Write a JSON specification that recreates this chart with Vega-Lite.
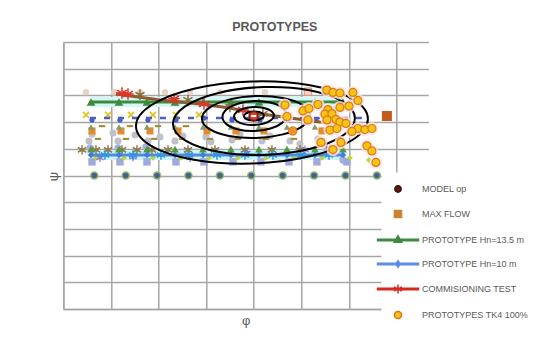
{
  "$schema": "https://vega.github.io/schema/vega-lite/v6.json",
  "width": 365,
  "height": 267,
  "autosize": {"type": "none"},
  "padding": {"left": 63.3, "top": 42, "right": 121.7, "bottom": 50},
  "background": "white",
  "title": {"text": "PROTOTYPES", "font": "Liberation Sans", "fontSize": 12.5, "fontWeight": "bold", "color": "#595959", "anchor": "middle", "frame": "group", "dx": 29, "offset": -1, "baseline": "alphabetic"},
  "config": {
    "view": {"stroke": null},
    "axis": {"gridColor": "#a6a6a6", "gridWidth": 1.5, "domainColor": "#a6a6a6", "domainWidth": 1.5, "labels": false, "ticks": false, "titleColor": "#595959", "titleFont": "Liberation Sans", "titleFontSize": 13, "titleFontWeight": "normal"}
  },
  "datasets": {
    "hn135": [{"phi":0.582,"psi":7.75},{"phi":1.170,"psi":7.75},{"phi":1.758,"psi":7.75},{"phi":2.347,"psi":7.75},{"phi":2.935,"psi":7.75},{"phi":3.523,"psi":7.75},{"phi":4.111,"psi":7.75},{"phi":4.700,"psi":7.75},{"phi":5.288,"psi":7.75},{"phi":5.876,"psi":7.75}],
    "hn10": [{"phi":0.582,"psi":5.77},{"phi":1.170,"psi":5.77},{"phi":1.758,"psi":5.77},{"phi":2.347,"psi":5.77},{"phi":2.935,"psi":5.77},{"phi":3.523,"psi":5.77},{"phi":4.111,"psi":5.77},{"phi":4.700,"psi":5.77},{"phi":5.288,"psi":5.77},{"phi":5.876,"psi":5.77}],
    "row2tri": [{"phi":0.582,"psi":5.99},{"phi":1.170,"psi":5.99},{"phi":1.758,"psi":5.99},{"phi":2.347,"psi":5.99},{"phi":2.935,"psi":5.99},{"phi":3.523,"psi":5.99},{"phi":4.111,"psi":5.99},{"phi":4.700,"psi":5.99},{"phi":5.288,"psi":5.99},{"phi":5.876,"psi":5.99}],
    "olivetri": [{"phi":0.582,"psi":6.82},{"phi":1.170,"psi":6.82},{"phi":1.758,"psi":6.82},{"phi":2.347,"psi":6.82},{"phi":2.935,"psi":6.82},{"phi":3.523,"psi":6.82},{"phi":4.111,"psi":6.82},{"phi":4.700,"psi":6.82},{"phi":5.288,"psi":6.82}],
    "dots175": [{"phi":0.651,"psi":5.0},{"phi":1.311,"psi":5.0},{"phi":1.970,"psi":5.0},{"phi":2.630,"psi":5.0},{"phi":3.290,"psi":5.0},{"phi":3.950,"psi":5.0},{"phi":4.610,"psi":5.0},{"phi":5.270,"psi":5.0},{"phi":5.930,"psi":5.0},{"phi":6.590,"psi":5.0}],
    "bluedash": [{"phi":0.561,"psi":7.15},{"phi":6.275,"psi":7.15}],
    "bluedots": [{"phi":0.603,"psi":7.08},{"phi":1.191,"psi":7.08},{"phi":1.779,"psi":7.08},{"phi":2.368,"psi":7.08},{"phi":2.956,"psi":7.15},{"phi":3.544,"psi":7.08},{"phi":4.132,"psi":7.08},{"phi":4.721,"psi":7.08},{"phi":5.309,"psi":7.08},{"phi":5.897,"psi":7.08}],
    "yellowx": [{"phi":0.477,"psi":7.27},{"phi":0.939,"psi":7.27},{"phi":1.422,"psi":7.27},{"phi":1.884,"psi":7.27},{"phi":2.368,"psi":7.27},{"phi":2.851,"psi":7.27}],
    "orangesq": [{"phi":0.603,"psi":6.67},{"phi":1.212,"psi":6.67},{"phi":1.821,"psi":6.67},{"phi":2.410,"psi":6.67},{"phi":3.019,"psi":6.67},{"phi":3.628,"psi":6.67},{"phi":4.216,"psi":6.67},{"phi":4.826,"psi":6.67},{"phi":5.435,"psi":6.67}],
    "graycirc": [{"phi":0.540,"psi":6.29},{"phi":0.603,"psi":6.55},{"phi":1.044,"psi":6.59},{"phi":1.149,"psi":6.29},{"phi":1.506,"psi":6.52},{"phi":1.779,"psi":6.29},{"phi":2.032,"psi":6.44},{"phi":2.347,"psi":6.29},{"phi":2.515,"psi":6.48},{"phi":2.998,"psi":6.44},{"phi":3.103,"psi":6.26},{"phi":3.544,"psi":6.33},{"phi":3.712,"psi":6.55},{"phi":4.174,"psi":6.29},{"phi":4.342,"psi":6.48},{"phi":4.763,"psi":6.29},{"phi":4.973,"psi":6.18},{"phi":5.351,"psi":6.37},{"phi":5.498,"psi":6.03}],
    "lavcirc": [{"phi":0.563,"psi":6.03},{"phi":1.149,"psi":6.03},{"phi":1.739,"psi":6.07},{"phi":5.876,"psi":5.58}],
    "lavsq": [{"phi":0.603,"psi":5.51},{"phi":1.191,"psi":5.51},{"phi":1.758,"psi":5.51},{"phi":2.368,"psi":5.51},{"phi":2.956,"psi":5.51},{"phi":3.565,"psi":5.51},{"phi":4.153,"psi":5.51},{"phi":4.742,"psi":5.51},{"phi":5.330,"psi":5.51},{"phi":5.960,"psi":5.51}],
    "ygdiam": [{"phi":0.687,"psi":5.66},{"phi":1.275,"psi":5.66},{"phi":1.884,"psi":5.66},{"phi":2.473,"psi":5.66},{"phi":3.061,"psi":5.66},{"phi":3.670,"psi":5.66},{"phi":4.258,"psi":5.66},{"phi":4.847,"psi":5.66},{"phi":5.435,"psi":5.66},{"phi":6.023,"psi":5.66},{"phi":6.422,"psi":5.58}],
    "brownast": [{"phi":0.393,"psi":5.96},{"phi":0.687,"psi":5.96},{"phi":0.939,"psi":5.96},{"phi":1.233,"psi":5.96},{"phi":1.548,"psi":5.96},{"phi":1.863,"psi":5.96},{"phi":2.200,"psi":5.96},{"phi":2.620,"psi":5.96},{"phi":3.187,"psi":5.96},{"phi":3.817,"psi":5.96},{"phi":4.384,"psi":5.96},{"phi":4.973,"psi":5.96},{"phi":5.603,"psi":5.96}],
    "purpleast": [{"phi":0.771,"psi":5.66},{"phi":1.464,"psi":5.69},{"phi":2.662,"psi":5.66},{"phi":3.859,"psi":5.84},{"phi":5.078,"psi":5.96},{"phi":5.603,"psi":6.03}],
    "blueast": [{"phi":0.876,"psi":5.77},{"phi":1.464,"psi":5.77},{"phi":2.053,"psi":5.77},{"phi":2.641,"psi":5.77},{"phi":3.229,"psi":5.77},{"phi":3.817,"psi":5.77},{"phi":4.405,"psi":5.77},{"phi":4.994,"psi":5.77},{"phi":5.582,"psi":5.77}],
    "olivedash": [{"phi":0.729,"psi":6.37},{"phi":1.317,"psi":6.37},{"phi":1.905,"psi":6.37},{"phi":2.494,"psi":6.37},{"phi":3.082,"psi":6.37},{"phi":3.670,"psi":6.37},{"phi":4.258,"psi":6.37},{"phi":4.847,"psi":6.37},{"phi":5.435,"psi":6.37},{"phi":0.813,"psi":6.85},{"phi":1.401,"psi":6.85},{"phi":1.989,"psi":6.85},{"phi":2.578,"psi":6.85}],
    "tanc": [{"phi":0.477,"psi":8.12},{"phi":1.067,"psi":8.12},{"phi":1.613,"psi":8.12},{"phi":2.139,"psi":8.12},{"phi":2.664,"psi":8.12},{"phi":3.292,"psi":8.12},{"phi":4.237,"psi":8.12}],
    "pinksq": [{"phi":5.141,"psi":8.14}],
    "comm": [{"phi":1.107,"psi":8.05},{"phi":2.032,"psi":7.83},{"phi":2.872,"psi":7.68},{"phi":3.502,"psi":7.53},{"phi":4.027,"psi":7.34},{"phi":4.763,"psi":7.15},{"phi":5.393,"psi":7.00},{"phi":6.023,"psi":6.85}],
    "commast": [{"phi":1.233,"psi":8.09},{"phi":1.359,"psi":8.05},{"phi":2.326,"psi":7.87},{"phi":2.956,"psi":7.68},{"phi":3.775,"psi":7.45}],
    "commbrown": [{"phi":1.611,"psi":8.02},{"phi":2.620,"psi":7.83},{"phi":3.502,"psi":7.57},{"phi":4.195,"psi":7.30}],
    "ellipses": [
      {"e":1,"k":0,"phi":4.216,"psi":7.239},{"e":1,"k":1,"phi":4.188,"psi":7.322},{"e":1,"k":2,"phi":4.111,"psi":7.380},{"e":1,"k":3,"phi":4.006,"psi":7.397},{"e":1,"k":4,"phi":3.901,"psi":7.368},{"e":1,"k":5,"phi":3.824,"psi":7.303},{"e":1,"k":6,"phi":3.796,"psi":7.217},{"e":1,"k":7,"phi":3.824,"psi":7.134},{"e":1,"k":8,"phi":3.901,"psi":7.076},{"e":1,"k":9,"phi":4.006,"psi":7.059},{"e":1,"k":10,"phi":4.111,"psi":7.088},{"e":1,"k":11,"phi":4.188,"psi":7.153},
      {"e":2,"k":0,"phi":4.426,"psi":7.251},{"e":2,"k":1,"phi":4.370,"psi":7.417},{"e":2,"k":2,"phi":4.216,"psi":7.531},{"e":2,"k":3,"phi":4.006,"psi":7.565},{"e":2,"k":4,"phi":3.796,"psi":7.509},{"e":2,"k":5,"phi":3.642,"psi":7.378},{"e":2,"k":6,"phi":3.586,"psi":7.206},{"e":2,"k":7,"phi":3.642,"psi":7.040},{"e":2,"k":8,"phi":3.796,"psi":6.925},{"e":2,"k":9,"phi":4.006,"psi":6.891},{"e":2,"k":10,"phi":4.216,"psi":6.947},{"e":2,"k":11,"phi":4.370,"psi":7.079},
      {"e":3,"k":0,"phi":4.689,"psi":7.264},{"e":3,"k":1,"phi":4.599,"psi":7.540},{"e":3,"k":2,"phi":4.353,"psi":7.733},{"e":3,"k":3,"phi":4.017,"psi":7.790},{"e":3,"k":4,"phi":3.681,"psi":7.697},{"e":3,"k":5,"phi":3.435,"psi":7.478},{"e":3,"k":6,"phi":3.345,"psi":7.192},{"e":3,"k":7,"phi":3.435,"psi":6.916},{"e":3,"k":8,"phi":3.681,"psi":6.723},{"e":3,"k":9,"phi":4.017,"psi":6.666},{"e":3,"k":10,"phi":4.353,"psi":6.759},{"e":3,"k":11,"phi":4.599,"psi":6.978},
      {"e":4,"k":0,"phi":5.182,"psi":7.252},{"e":4,"k":1,"phi":5.030,"psi":7.637},{"e":4,"k":2,"phi":4.615,"psi":7.902},{"e":4,"k":3,"phi":4.048,"psi":7.978},{"e":4,"k":4,"phi":3.481,"psi":7.842},{"e":4,"k":5,"phi":3.066,"psi":7.531},{"e":4,"k":6,"phi":2.914,"psi":7.130},{"e":4,"k":7,"phi":3.066,"psi":6.745},{"e":4,"k":8,"phi":3.481,"psi":6.480},{"e":4,"k":9,"phi":4.048,"psi":6.404},{"e":4,"k":10,"phi":4.615,"psi":6.540},{"e":4,"k":11,"phi":5.030,"psi":6.851},
      {"e":5,"k":0,"phi":6.128,"psi":7.143},{"e":5,"k":1,"phi":5.872,"psi":7.766},{"e":5,"k":2,"phi":5.172,"psi":8.195},{"e":5,"k":3,"phi":4.216,"psi":8.314},{"e":5,"k":4,"phi":3.260,"psi":8.093},{"e":5,"k":5,"phi":2.560,"psi":7.590},{"e":5,"k":6,"phi":2.304,"psi":6.939},{"e":5,"k":7,"phi":2.560,"psi":6.316},{"e":5,"k":8,"phi":3.260,"psi":5.887},{"e":5,"k":9,"phi":4.216,"psi":5.768},{"e":5,"k":10,"phi":5.172,"psi":5.989},{"e":5,"k":11,"phi":5.872,"psi":6.492},
      {"e":6,"k":0,"phi":6.401,"psi":7.115},{"e":6,"k":1,"phi":6.074,"psi":7.866},{"e":6,"k":2,"phi":5.183,"psi":8.380},{"e":6,"k":3,"phi":3.964,"psi":8.521},{"e":6,"k":4,"phi":2.745,"psi":8.250},{"e":6,"k":5,"phi":1.854,"psi":7.640},{"e":6,"k":6,"phi":1.527,"psi":6.855},{"e":6,"k":7,"phi":1.854,"psi":6.104},{"e":6,"k":8,"phi":2.745,"psi":5.590},{"e":6,"k":9,"phi":3.964,"psi":5.449},{"e":6,"k":10,"phi":5.183,"psi":5.720},{"e":6,"k":11,"phi":6.074,"psi":6.330}
    ],
    "tk4": [{"phi":5.540,"psi":8.20},{"phi":5.666,"psi":8.11},{"phi":5.813,"psi":8.09},{"phi":6.086,"psi":8.11},{"phi":6.191,"psi":7.81},{"phi":6.002,"psi":7.60},{"phi":5.813,"psi":7.55},{"phi":5.561,"psi":7.47},{"phi":5.498,"psi":7.30},{"phi":5.645,"psi":7.32},{"phi":5.540,"psi":7.08},{"phi":5.729,"psi":7.10},{"phi":5.813,"psi":7.00},{"phi":5.939,"psi":6.95},{"phi":5.036,"psi":7.42},{"phi":5.162,"psi":7.51},{"phi":5.351,"psi":7.66},{"phi":4.657,"psi":7.64},{"phi":4.700,"psi":7.21},{"phi":5.141,"psi":7.08},{"phi":5.603,"psi":6.70},{"phi":5.750,"psi":6.76},{"phi":6.191,"psi":6.76},{"phi":6.338,"psi":6.72},{"phi":6.485,"psi":6.76},{"phi":6.065,"psi":6.65},{"phi":5.414,"psi":6.24},{"phi":5.834,"psi":6.24},{"phi":5.666,"psi":5.97},{"phi":6.380,"psi":6.11},{"phi":6.569,"psi":5.49},{"phi":6.485,"psi":5.92}],
    "tk4o": [{"phi":4.819,"psi":6.667}],
    "maxflow": [{"phi":6.800,"psi":7.228}],
    "model": [{"phi":4.000,"psi":7.228}]
  },
  "encoding": {
    "x": {"field": "phi", "type": "quantitative", "scale": {"domain": [0, 7.67], "nice": false, "zero": false}, "axis": {"grid": true, "values": [0,1,2,3,4,5,6,7], "title": "φ", "titlePadding": 5}},
    "y": {"field": "psi", "type": "quantitative", "scale": {"domain": [0, 10], "nice": false, "zero": false}, "axis": {"grid": true, "values": [0,1,2,3,4,5,6,7,8,9,10], "title": "ψ", "titleX": -10, "titleY": 134, "titleAngle": 270, "titleAlign": "center", "titleBaseline": "middle"}}
  },
  "layer": [
    {"data": {"name": "hn135"}, "mark": {"type": "line", "color": "#d3f6f6", "strokeWidth": 10}},
    {"data": {"name": "hn10"}, "mark": {"type": "line", "color": "#cdf3fa", "strokeWidth": 10}},
    {"data": {"name": "tanc"}, "mark": {"type": "point", "shape": "circle", "filled": true, "color": "#ead2c0", "size": 40, "opacity": 1}},
    {"data": {"name": "graycirc"}, "mark": {"type": "point", "shape": "circle", "filled": true, "color": "#bfc0cc", "size": 50, "opacity": 1}},
    {"data": {"name": "lavcirc"}, "mark": {"type": "point", "shape": "circle", "filled": true, "color": "#a9b0de", "size": 55, "opacity": 1}},
    {"data": {"name": "yellowx"}, "mark": {"type": "point", "shape": "M-1,-1L1,1M-1,1L1,-1", "filled": false, "color": "#e2c21c", "strokeWidth": 1.6, "size": 36, "opacity": 1}},
    {"data": {"name": "bluedash"}, "mark": {"type": "line", "color": "#4a62c0", "strokeWidth": 2.5, "strokeDash": [6, 8]}},
    {"data": {"name": "bluedots"}, "mark": {"type": "point", "shape": "circle", "filled": true, "color": "#4a5fc1", "size": 28, "opacity": 1}},
    {"data": {"name": "orangesq"}, "mark": {"type": "point", "shape": "square", "filled": true, "color": "#e38b2f", "size": 50, "opacity": 1}},
    {"data": {"name": "olivetri"}, "mark": {"type": "point", "shape": "triangle-up", "filled": true, "color": "#8a9872", "size": 40, "opacity": 1}},
    {"data": {"name": "olivedash"}, "mark": {"type": "point", "shape": "M-1,0H1", "filled": false, "color": "#a38f3c", "strokeWidth": 2.2, "size": 40, "opacity": 1}},
    {"data": {"name": "lavsq"}, "mark": {"type": "point", "shape": "square", "filled": true, "color": "#9ea9dc", "size": 55, "opacity": 1}},
    {"data": {"name": "ygdiam"}, "mark": {"type": "point", "shape": "diamond", "filled": true, "color": "#bcd63a", "size": 35, "opacity": 1}},
    {"data": {"name": "brownast"}, "mark": {"type": "point", "shape": "M0,-1V1M-0.87,-0.5L0.87,0.5M-0.87,0.5L0.87,-0.5", "filled": false, "color": "#8d7b48", "strokeWidth": 1.5, "size": 90, "opacity": 1}},
    {"data": {"name": "purpleast"}, "mark": {"type": "point", "shape": "M0,-1V1M-0.87,-0.5L0.87,0.5M-0.87,0.5L0.87,-0.5", "filled": false, "color": "#8c72d0", "strokeWidth": 1.3, "size": 70, "opacity": 1}},
    {"data": {"name": "row2tri"}, "mark": {"type": "point", "shape": "triangle-up", "filled": true, "color": "#4f9a3c", "size": 60, "opacity": 1}},
    {"data": {"name": "hn135"}, "mark": {"type": "line", "color": "#3d8b3d", "strokeWidth": 3}},
    {"data": {"name": "hn135"}, "mark": {"type": "point", "shape": "triangle-up", "filled": true, "color": "#3d8b3d", "size": 75, "opacity": 1}},
    {"data": {"name": "hn10"}, "mark": {"type": "line", "color": "#4f8ce0", "strokeWidth": 3}},
    {"data": {"name": "hn10"}, "mark": {"type": "point", "shape": "diamond", "filled": true, "color": "#3f7fd8", "size": 45, "opacity": 1}},
    {"data": {"name": "blueast"}, "mark": {"type": "point", "shape": "M0,-1V1M-0.87,-0.5L0.87,0.5M-0.87,0.5L0.87,-0.5", "filled": false, "color": "#2f96e0", "strokeWidth": 1.5, "size": 90, "opacity": 1}},
    {"data": {"name": "comm"}, "mark": {"type": "line", "color": "#8e5a2c", "strokeWidth": 3}},
    {"data": {"name": "commast"}, "mark": {"type": "point", "shape": "M0,-1V1M-0.87,-0.5L0.87,0.5M-0.87,0.5L0.87,-0.5M-1,0H1", "filled": false, "color": "#e2352a", "strokeWidth": 1.5, "size": 130, "opacity": 1}},
    {"data": {"name": "commbrown"}, "mark": {"type": "point", "shape": "M0,-1V1M-0.87,-0.5L0.87,0.5M-0.87,0.5L0.87,-0.5", "filled": false, "color": "#8d6b3a", "strokeWidth": 1.5, "size": 110, "opacity": 1}},
    {"data": {"name": "dots175"}, "mark": {"type": "point", "shape": "circle", "filled": true, "color": "#4a5aa8", "stroke": "#8cc152", "strokeWidth": 1.5, "size": 50, "opacity": 1}},
    {"data": {"name": "pinksq"}, "mark": {"type": "point", "shape": "square", "filled": true, "color": "#f8d0d8", "stroke": "#e8905a", "strokeWidth": 1, "size": 55, "opacity": 1}},
    {"data": {"name": "ellipses"}, "mark": {"type": "line", "color": "black", "strokeWidth": 2, "interpolate": "cardinal-closed"}, "encoding": {"detail": {"field": "e", "type": "nominal"}, "order": {"field": "k", "type": "quantitative"}}},
    {"data": {"name": "tk4"}, "mark": {"type": "point", "shape": "circle", "filled": true, "color": "#fde2ea", "size": 170, "opacity": 0.8}},
    {"data": {"name": "tk4"}, "mark": {"type": "point", "shape": "circle", "filled": true, "color": "#f5c518", "stroke": "#e07a10", "strokeWidth": 1.2, "size": 64, "opacity": 1}},
    {"data": {"name": "tk4o"}, "mark": {"type": "point", "shape": "circle", "filled": true, "color": "#f3902e", "stroke": "#e07a10", "strokeWidth": 1, "size": 70, "opacity": 1}},
    {"data": {"name": "maxflow"}, "mark": {"type": "point", "shape": "square", "filled": true, "color": "#c65a1e", "size": 100, "opacity": 1}},
    {"data": {"name": "model"}, "mark": {"type": "point", "shape": "circle", "filled": true, "color": "#d8402f", "stroke": "#7a1a10", "strokeWidth": 1.5, "size": 80, "opacity": 1}},
    {"data": {"name": "model"}, "mark": {"type": "point", "shape": "M-1,0H1", "filled": false, "color": "white", "strokeWidth": 2, "size": 25, "opacity": 1}},
    {"data": {"values": []}, "mark": {"type": "point", "filled": true, "opacity": 1},
     "encoding": {
       "fill": {"field": "series", "type": "nominal",
         "scale": {"domain": ["MODEL op", "MAX FLOW", "PROTOTYPE Hn=13.5 m", "PROTOTYPE Hn=10 m", "COMMISIONING TEST", "PROTOTYPES TK4 100%"], "range": ["#5c1a10", "#c8842f", "#3d8b3d", "#5b8ee6", "#b8402c", "#f7c51e"]},
         "legend": {"orient": "none", "legendX": 318.2, "legendY": 130.5, "padding": 5, "fillColor": "white", "title": null, "symbolSize": 441, "symbolStrokeWidth": 1.5, "labelFont": "Liberation Sans", "labelFontSize": 9, "labelColor": "#595959", "labelOffset": 12.5, "rowPadding": 7, "labelLimit": 200}},
       "stroke": {"field": "series", "type": "nominal",
         "scale": {"domain": ["MODEL op", "MAX FLOW", "PROTOTYPE Hn=13.5 m", "PROTOTYPE Hn=10 m", "COMMISIONING TEST", "PROTOTYPES TK4 100%"], "range": ["#3b0d06", "#c8842f", "#3d8b3d", "#5b8ee6", "#d42a1e", "#e07010"]}},
       "shape": {"field": "series", "type": "nominal",
         "scale": {"domain": ["MODEL op", "MAX FLOW", "PROTOTYPE Hn=13.5 m", "PROTOTYPE Hn=10 m", "COMMISIONING TEST", "PROTOTYPES TK4 100%"], "range": [
           "M0.3,0A0.3,0.3,0,1,1,-0.3,0A0.3,0.3,0,1,1,0.3,0Z",
           "M-0.34,-0.34H0.34V0.34H-0.34Z",
           "M-1.95,-0.08H1.95V0.08H-1.95Z M0,-0.4L0.36,0.22H-0.36Z",
           "M-1.95,-0.08H1.95V0.08H-1.95Z M0,-0.32L0.2,0L0,0.32L-0.2,0Z",
           "M-1.95,-0.08H1.95V0.08H-1.95Z M0,-0.42V0.42M-0.36,-0.21L0.36,0.21M-0.36,0.21L0.36,-0.21",
           "M0.34,0A0.34,0.34,0,1,1,-0.34,0A0.34,0.34,0,1,1,0.34,0Z"]}}
     }}
  ]
}
